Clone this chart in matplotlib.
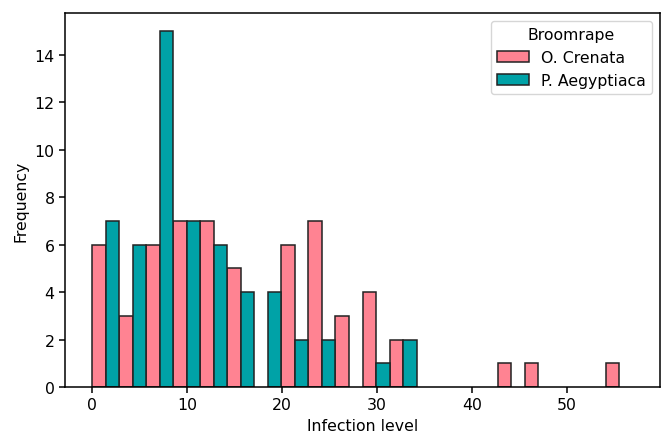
import numpy as np
import matplotlib
matplotlib.use("Agg")
import matplotlib.pyplot as plt

plt.rcParams["font.size"] = 11.3

# histogram counts per bin (20 equal bins over 0..57)
bin_edges = np.linspace(0, 57, 21)
crenata = [6, 3, 6, 7, 7, 5, 0, 6, 7, 3, 4, 2, 0, 0, 0, 1, 1, 0, 0, 1]
aegyptiaca = [7, 6, 15, 7, 6, 4, 4, 2, 2, 0, 1, 2, 0, 0, 0, 0, 0, 0, 0, 0]
labels = ["O. Crenata", "P. Aegyptiaca"]
colors = ["#ff8392", "#00a2a7"]

fig, ax = plt.subplots(figsize=(6.61, 4.35), dpi=100)
fig.subplots_adjust(left=65/661, right=660/661, top=1-14/435, bottom=1-388/435)

width = np.diff(bin_edges) / 2
left = bin_edges[:-1]
for i, (counts, lab, col) in enumerate(zip([crenata, aegyptiaca], labels, colors)):
    counts = np.array(counts)
    keep = counts > 0  # empty bins leave no mark
    ax.bar(left[keep] + i * width[keep], counts[keep], width=width[keep], align="edge",
           color=col, edgecolor="#222222", linewidth=1.1, label=lab)

ax.set_xlim(-2.85, 59.85)
ax.set_ylim(0, 15.75)
ax.set_xlabel("Infection level")
ax.set_ylabel("Frequency")
ax.set_xticks([0, 10, 20, 30, 40, 50])
ax.set_yticks(range(0, 15, 2))
ax.tick_params(length=4, width=1.1)
for s in ax.spines.values():
    s.set_linewidth(1.1)
ax.legend(title="Broomrape", loc="upper right")

plt.savefig("out.png", dpi=100)
